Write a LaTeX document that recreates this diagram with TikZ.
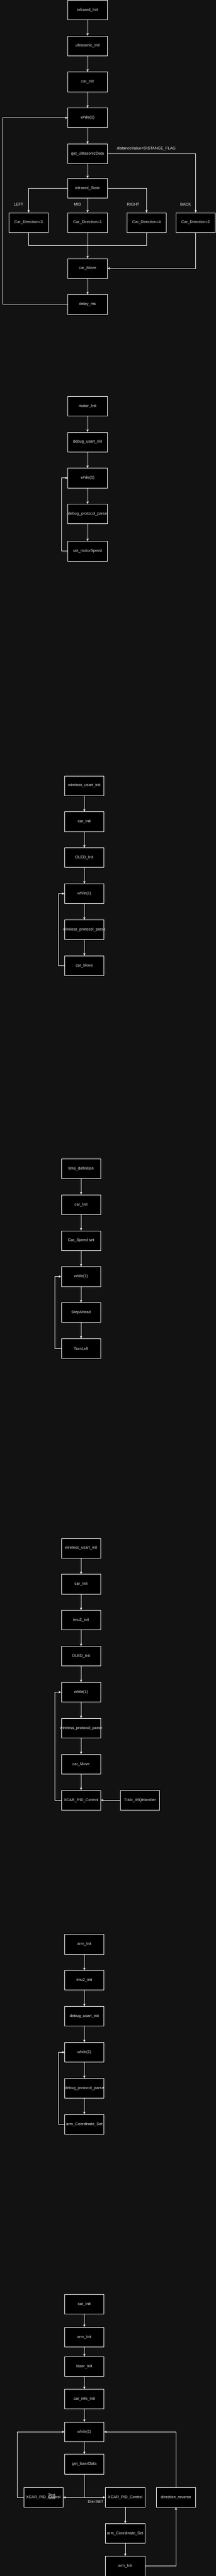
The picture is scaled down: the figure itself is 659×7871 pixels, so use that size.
\documentclass[tikz,border=0pt]{standalone}
\usepackage{fontspec}
\setmainfont{Liberation Sans}
\usetikzlibrary{arrows.meta}
\definecolor{bgc}{HTML}{121212}
\definecolor{txt}{HTML}{E6E6E6}
\begin{document}
\begin{tikzpicture}[x=1pt, y=-1pt,
    blk/.style={draw=white, fill=black, line width=1pt, minimum width=120pt, minimum height=60pt, inner sep=0pt, text=txt, font=\fontsize{12}{14}\selectfont},
    lbl/.style={text=txt, inner sep=0pt, font=\fontsize{12}{14}\selectfont},
    arr/.style={draw=white, line width=1pt, -{Stealth[length=8pt, width=7pt, inset=2.5pt]}},
    ln/.style={draw=white, line width=1pt}]
    \fill[bgc] (0,0) rectangle (659,7871);
    \useasboundingbox (0,0) rectangle (659,7871);

    % infrared / ultrasonic
    \node[blk] (ir1) at (267.4,30) {infrared\_Init};
    \node[blk] (us1) at (267.4,140) {ultrasonic\_Init};
    \node[blk] (ci1) at (267.4,250) {car\_Init};
    \node[blk] (wh1) at (267.4,360) {while(1)};
    \node[blk] (gud1) at (267.4,470) {get\_ultrasonicData};
    \node[blk] (ist1) at (267.4,575) {infrared\_State};
    \node[blk] (cd3) at (87.4,680) {Car\_Direction=3};
    \node[blk] (cd1) at (267.4,680) {Car\_Direction=1};
    \node[blk] (cd4) at (447.5,680) {Car\_Direction=4};
    \node[blk] (cd2) at (597.5,680) {Car\_Direction=2};
    \node[blk] (cm1) at (267.4,820) {car\_Move};
    \node[blk] (dly1) at (267.4,930) {delay\_ms};
    \node[lbl] (dfl1) at (446.8,454) {distanceValue<DISTANCE\_FLAG};
    \node[lbl] (lft1) at (56.7,625) {LEFT};
    \node[lbl] (mid1) at (237,625) {MID};
    \node[lbl] (rgt1) at (406.7,625) {RIGHT};
    \node[lbl] (bck1) at (566.8,625) {BACK};
    \coordinate (mrg1) at (267.4,750);
    \coordinate (lp1) at (7.6,930);
    \foreach \a/\b in {ir1/us1, us1/ci1, ci1/wh1, wh1/gud1, gud1/ist1, ist1/cd1, cd1/cm1, cm1/dly1}
        \draw[arr] (\a) -- (\b);
    \draw[arr] (gud1.east) -| (cd2.north);
    \draw[arr] (ist1.west) -| (cd3.north);
    \draw[arr] (ist1.east) -| (cd4.north);
    \draw[ln] (cd3.south) |- (mrg1) -| (cd4.south);
    \draw[arr] (cd2.south) |- (cm1.east);
    \draw[arr] (dly1.west) -- (lp1) |- (wh1.west);

    % motor debug
    \node[blk] (mi2) at (267.4,1240.5) {motor\_Init};
    \node[blk] (dui2) at (267.4,1350.5) {debug\_usart\_init};
    \node[blk] (wh2) at (267.4,1460.5) {while(1)};
    \node[blk] (dpp2) at (267.4,1570.5) {debug\_protocol\_parse};
    \node[blk] (sms2) at (267.4,1684) {set\_motorSpeed};
    \coordinate (lp2) at (187.4,1684);
    \foreach \a/\b in {mi2/dui2, dui2/wh2, wh2/dpp2, dpp2/sms2}
        \draw[arr] (\a) -- (\b);
    \draw[arr] (sms2.west) -- (lp2) |- (wh2.west);

    % wireless car
    \node[blk] (wui3) at (257.5,2400.5) {wireless\_usart\_init};
    \node[blk] (ci3) at (257.5,2510.5) {car\_Init};
    \node[blk] (ol3) at (257.5,2620.5) {OLED\_Init};
    \node[blk] (wh3) at (257.5,2730.5) {while(1)};
    \node[blk] (wpp3) at (257.5,2840.5) {\makebox[0pt]{wireless\_protocol\_parse}};
    \node[blk] (cm3) at (257.5,2950.5) {car\_Move};
    \coordinate (lp3) at (177.7,2950.5);
    \foreach \a/\b in {wui3/ci3, ci3/ol3, ol3/wh3, wh3/wpp3, wpp3/cm3}
        \draw[arr] (\a) -- (\b);
    \draw[arr] (cm3.west) -- (lp3) |- (wh3.west);

    % timed steps
    \node[blk] (td4) at (247.5,3570.5) {time\_definition};
    \node[blk] (ci4) at (247.5,3680.5) {car\_Init};
    \node[blk] (css4) at (247.5,3790.5) {Car\_Speed set};
    \node[blk] (wh4) at (247.5,3900.5) {while(1)};
    \node[blk] (sa4) at (247.5,4010.5) {StepAhead};
    \node[blk] (tl4) at (247.5,4120.5) {TurnLeft};
    \coordinate (lp4) at (167.6,4120.5);
    \foreach \a/\b in {td4/ci4, ci4/css4, css4/wh4, wh4/sa4, sa4/tl4}
        \draw[arr] (\a) -- (\b);
    \draw[arr] (tl4.west) -- (lp4) |- (wh4.west);

    % wireless car with pid
    \node[blk] (wui5) at (247.5,4730.4) {wireless\_usart\_init};
    \node[blk] (ci5) at (247.5,4840.4) {car\_Init};
    \node[blk] (imu5) at (247.5,4950.4) {imu2\_init};
    \node[blk] (ol5) at (247.5,5060.4) {OLED\_Init};
    \node[blk] (wh5) at (247.5,5170.4) {while(1)};
    \node[blk] (wpp5) at (247.5,5280.3) {\makebox[0pt]{wireless\_protocol\_parse}};
    \node[blk] (cm5) at (247.5,5390.3) {car\_Move};
    \node[blk] (pid5) at (247.5,5500.3) {XCAR\_PID\_Control};
    \node[blk] (tim5) at (427.3,5500.3) {TIMx\_IRQHandler};
    \coordinate (lp5) at (167.6,5500.3);
    \foreach \a/\b in {wui5/ci5, ci5/imu5, imu5/ol5, ol5/wh5, wh5/wpp5, wpp5/cm5, cm5/pid5}
        \draw[arr] (\a) -- (\b);
    \draw[arr] (tim5) -- (pid5);
    \draw[arr] (pid5.west) -- (lp5) |- (wh5.west);

    % arm debug
    \node[blk] (arm6) at (257.5,5940.6) {arm\_Init};
    \node[blk] (imu6) at (257.5,6050.7) {imu2\_init};
    \node[blk] (dui6) at (257.5,6160.7) {debug\_usart\_init};
    \node[blk] (wh6) at (257.5,6270.6) {while(1)};
    \node[blk] (dpp6) at (257.5,6380.6) {debug\_protocol\_parse};
    \node[blk] (acs6) at (257.5,6490.5) {arm\_Coordinate\_Set};
    \coordinate (lp6) at (177.7,6490.5);
    \foreach \a/\b in {arm6/imu6, imu6/dui6, dui6/wh6, wh6/dpp6, dpp6/acs6}
        \draw[arr] (\a) -- (\b);
    \draw[arr] (acs6.west) -- (lp6) |- (wh6.west);

    % laser car with arm
    \node[blk] (ci7) at (257.5,7040.3) {car\_Init};
    \node[blk] (arm7) at (257.5,7140.5) {arm\_Init};
    \node[blk] (ls7) at (257.5,7230.5) {laser\_Init};
    \node[blk] (cii7) at (257.5,7330.5) {car\_info\_Init};
    \node[blk] (wh7) at (257.5,7430.5) {while(1)};
    \node[blk] (gld7) at (257.5,7529) {get\_laserData};
    \node[blk] (pidl7) at (132.4,7630.5) {XCAR\_PID\_Control};
    \node[blk] (pidr7) at (382.4,7630.5) {XCAR\_PID\_Control};
    \node[blk] (drv7) at (537.4,7630.5) {direction\_reverse};
    \node[blk] (acs7) at (382.4,7740.5) {arm\_Coordinate\_Set};
    \node[blk] (armb7) at (382.4,7840.7) {arm\_Init};
    \node[lbl] (txa7) at (157.6,7624) {Text};
    \node[lbl] (txb7) at (157.6,7633) {Text};
    \node[lbl] (dis7) at (292,7644) {Dis<SET};
    \coordinate (lp7) at (52.5,7630.5);
    \foreach \a/\b in {ci7/arm7, arm7/ls7, ls7/cii7, cii7/wh7, wh7/gld7, pidr7/acs7, acs7/armb7}
        \draw[arr] (\a) -- (\b);
    \draw[arr] (gld7.south) |- (pidl7.east);
    \draw[arr] (gld7.south) |- (pidr7.west);
    \draw[arr] (pidl7.west) -- (lp7) |- (wh7.west);
    \draw[arr] (armb7.east) -| (drv7.south);
    \draw[arr] (drv7.north) |- (wh7.east);
\end{tikzpicture}
\end{document}
